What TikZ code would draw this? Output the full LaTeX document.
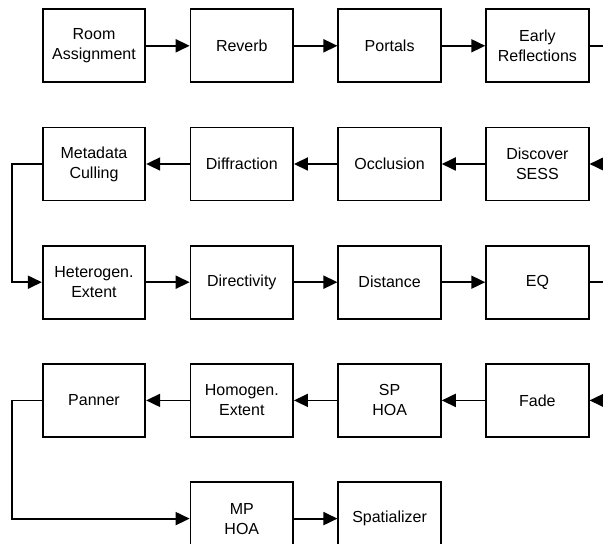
\documentclass[tikz,border=0pt]{standalone}
\usepackage{fontspec}
\setmainfont{Liberation Sans}
\usepackage{tikz}
\usetikzlibrary{positioning,arrows.meta}
\tikzset{
  >={Triangle[length=7pt,width=6.5pt]},
  stage/.style={rectangle, draw=black, line width=0.9pt, minimum width=51.25pt,
                minimum height=36.5pt, inner sep=1pt, align=center,
                font=\fontsize{8}{10}\selectfont},
  flow/.style={draw, line width=0.9pt, ->},
  wire/.style={draw, line width=0.9pt}
}

\begin{document}
\begin{tikzpicture}[node distance=21.7pt and 21.75pt]
\clip (0,0) rectangle (301.5pt,-272pt);
\coordinate (edge) at (301.5pt,0);
% first row
\node[stage] (room) at (47pt,-22.9pt) {Room\\Assignment};
\node[stage, right=of room] (reverb) {Reverb};
\node[stage, right=of reverb] (portals) {Portals};
\node[stage, right=of portals] (early) {Early\\Reflections};
% second row
\node[stage, below=of early] (discover) {Discover\\SESS};
\node[stage, left=of discover] (occlusion) {Occlusion};
\node[stage, left=of occlusion] (diffraction) {Diffraction};
\node[stage, left=of diffraction] (culling) {Metadata\\Culling};
% third row
\node[stage, below=of culling] (hetero) {Heterogen.\\Extent};
\node[stage, right=of hetero] (directivity) {Directivity};
\node[stage, right=of directivity] (distance) {Distance};
\node[stage, right=of distance] (eq) {EQ};
% fourth row
\node[stage, below=of eq] (fade) {Fade};
\node[stage, left=of fade] (sphoa) {SP\\HOA};
\node[stage, left=of sphoa] (homo) {Homogen.\\Extent};
\node[stage, left=of homo] (panner) {Panner};
% last row
\node[stage, below=of homo] (mphoa) {MP\\HOA};
\node[stage, right=of mphoa] (spatializer) {Spatializer};

\coordinate (earlyOut) at (early.east -| edge);
\coordinate (discoverIn) at (discover.east -| edge);
\coordinate (eqOut) at (eq.east -| edge);
\coordinate (fadeIn) at (fade.east -| edge);

\draw[flow] (room) -- (reverb);
\draw[flow] (reverb) -- (portals);
\draw[flow] (portals) -- (early);
\draw[wire] (early) -- (earlyOut);
\draw[flow] (discoverIn) -- (discover);
\draw[flow] (discover) -- (occlusion);
\draw[flow] (occlusion) -- (diffraction);
\draw[flow] (diffraction) -- (culling);
\draw[flow] (culling.west) -- ++(-15pt,0) |- (hetero.west);
\draw[flow] (hetero) -- (directivity);
\draw[flow] (directivity) -- (distance);
\draw[flow] (distance) -- (eq);
\draw[wire] (eq) -- (eqOut);
\draw[flow] (fadeIn) -- (fade);
\draw[flow] (fade) -- (sphoa);
\draw[flow] (sphoa) -- (homo);
\draw[flow] (homo) -- (panner);
\draw[flow] (panner.west) -- ++(-15pt,0) |- (mphoa.west);
\draw[flow] (mphoa) -- (spatializer);
\end{tikzpicture}
\end{document}
